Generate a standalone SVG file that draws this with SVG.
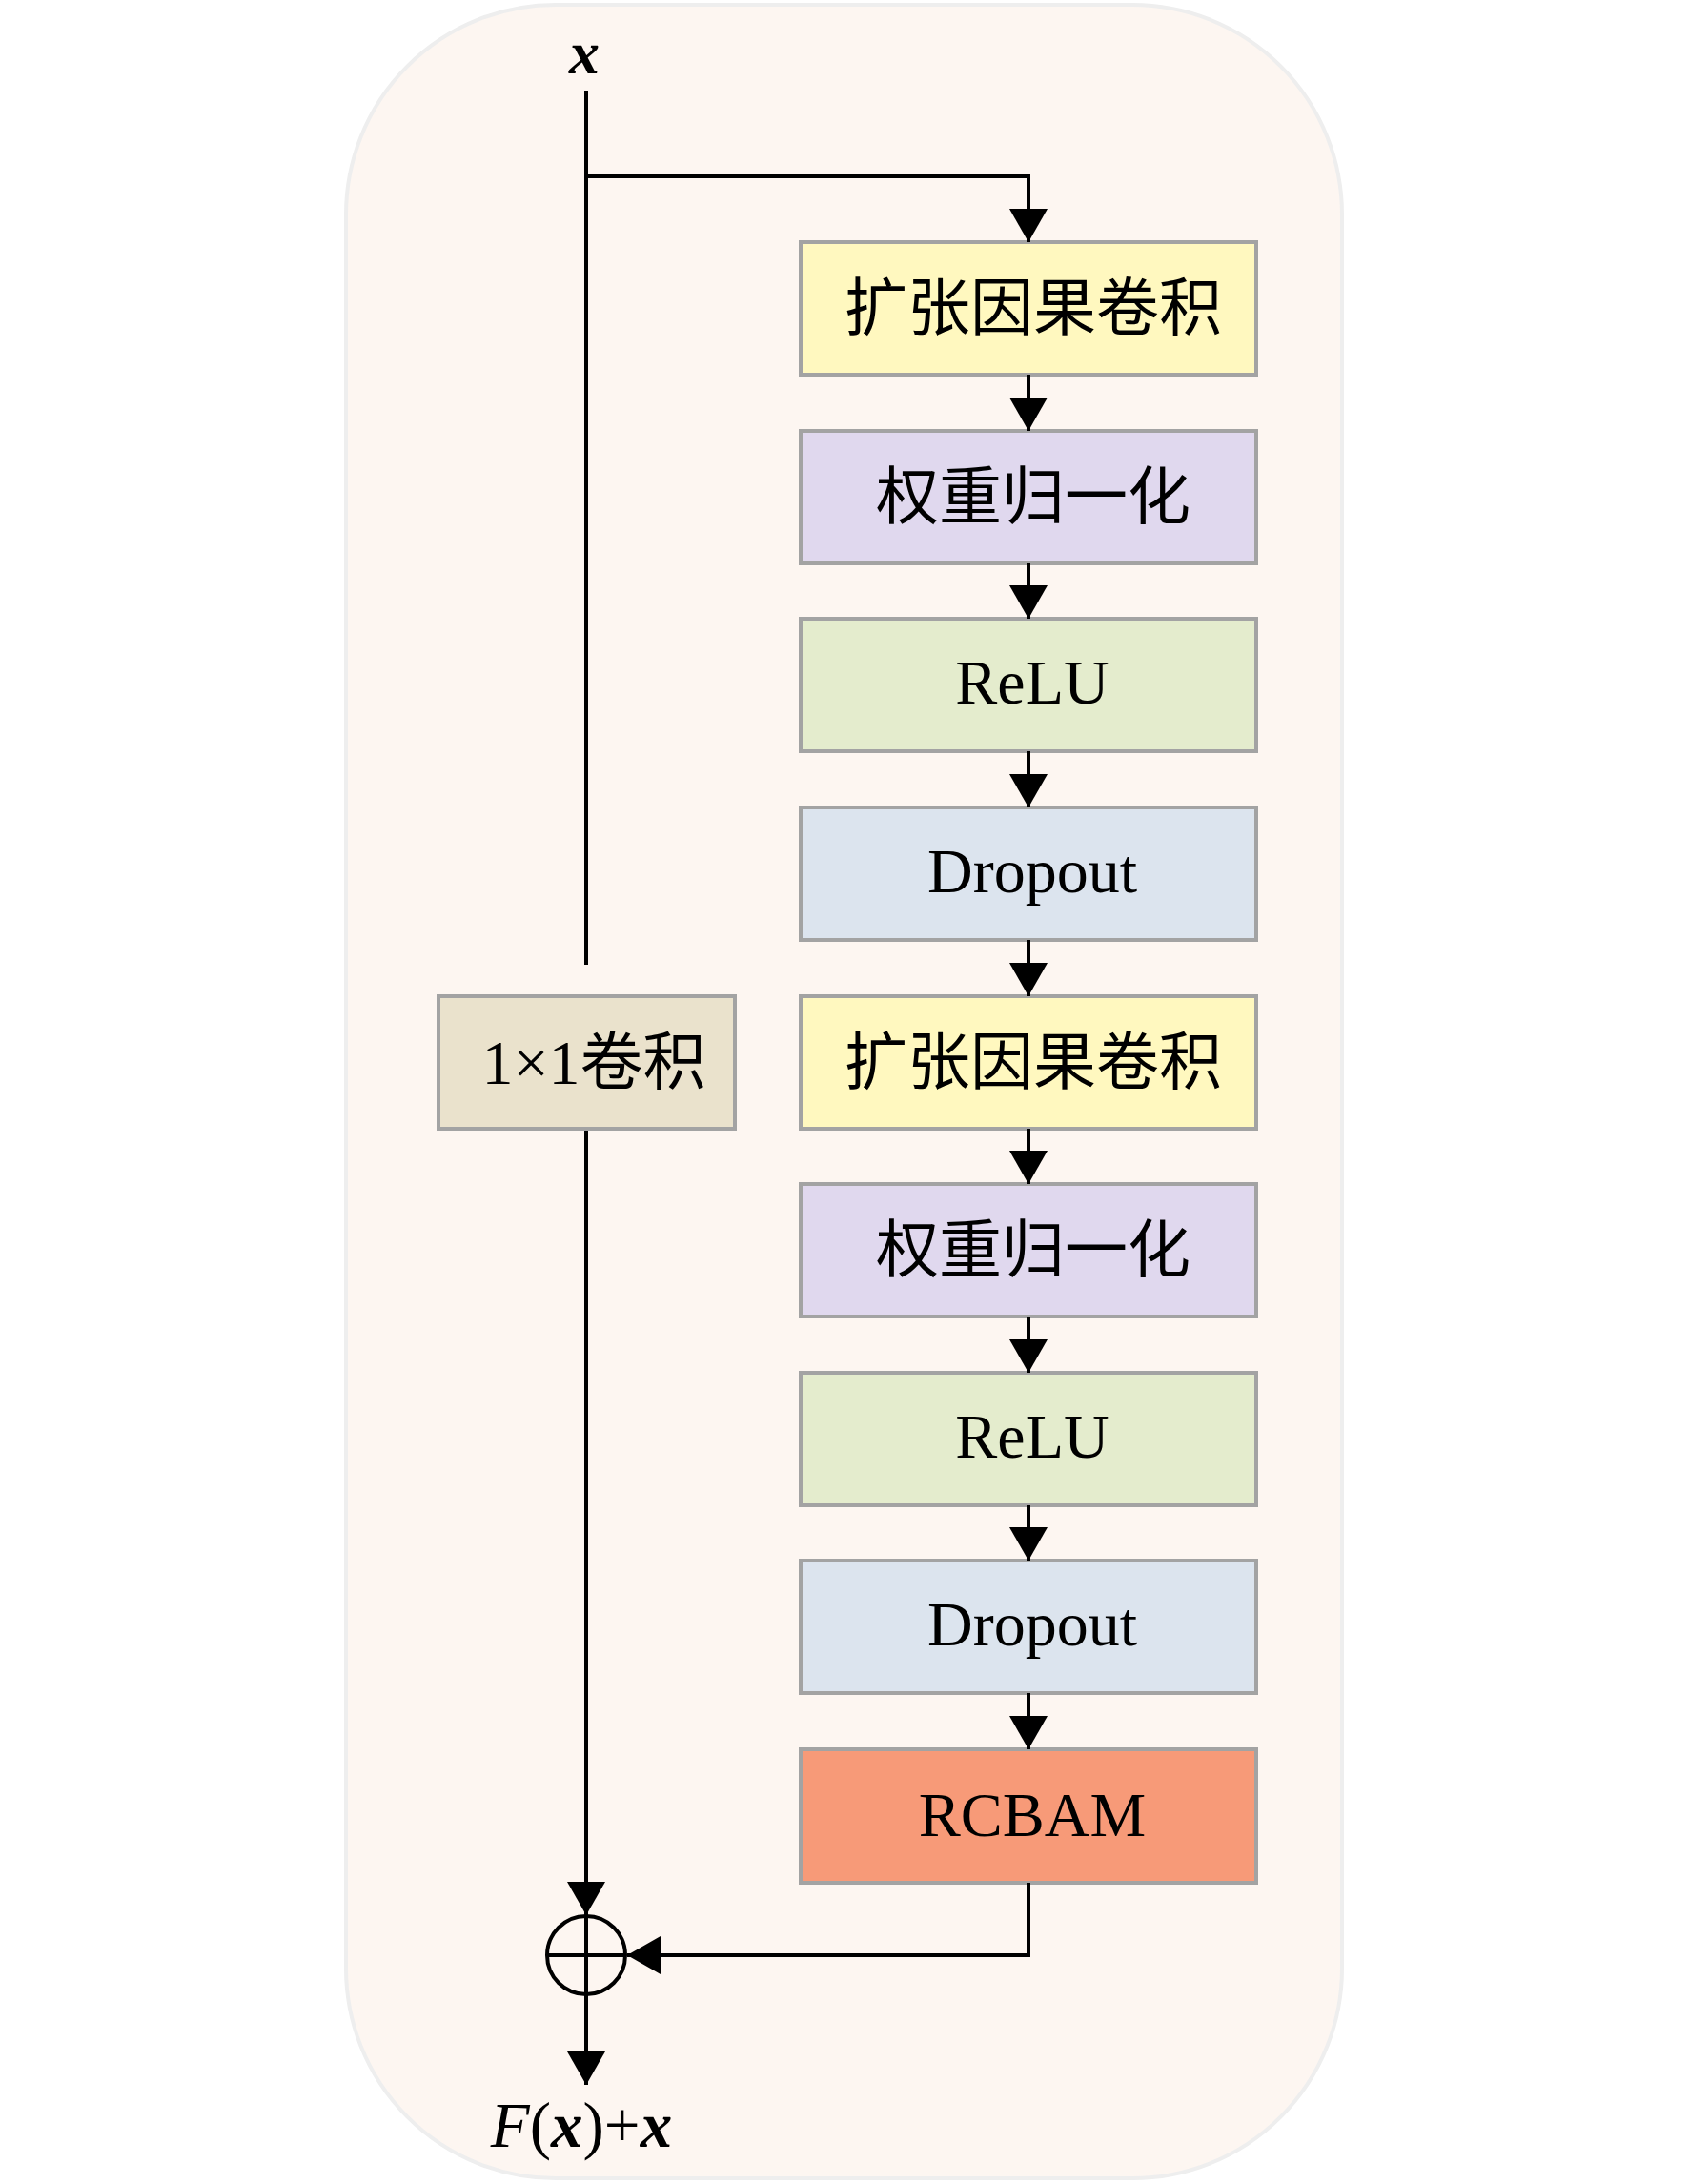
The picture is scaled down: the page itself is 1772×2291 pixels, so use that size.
<svg xmlns="http://www.w3.org/2000/svg" width="1772" height="2291" viewBox="0 0 1772 2291">
<defs>
<style>
.box{stroke:#A3A3A3;stroke-width:4}
.t{font-family:"Liberation Serif","Noto Sans CJK SC",serif;font-size:66px;fill:#000;text-anchor:middle}
.ln{fill:none;stroke:#000;stroke-width:4}
</style>
<marker id="ah" viewBox="0 0 35 40" refX="35" refY="20" markerWidth="35" markerHeight="40" markerUnits="userSpaceOnUse" orient="auto">
<path d="M0,0 L35,20 L0,40 Z" fill="#000"/>
</marker>
</defs>
<rect x="0" y="0" width="1772" height="2291" fill="#FFFFFF"/>
<rect id="background" x="363" y="5" width="1045" height="2280" rx="220" ry="220" fill="#FDF6F1" stroke="#EEEEEE" stroke-width="4"/>

<g id="label-x">
<text x="613" y="77" class="t" style="font-weight:bold;font-style:italic;font-size:64px">x</text>
</g>

<g id="n1"><rect class="box" x="840" y="254" width="478" height="139" fill="#FFF8BF"/><text class="t" x="1084" y="346">扩张因果卷积</text></g>
<g id="n2"><rect class="box" x="840" y="452" width="478" height="139" fill="#E0D8EE"/><text class="t" x="1084" y="544">权重归一化</text></g>
<g id="n3"><rect class="box" x="840" y="649" width="478" height="139" fill="#E4ECCD"/><text class="t" x="1083" y="738">ReLU</text></g>
<g id="n4"><rect class="box" x="840" y="847" width="478" height="139" fill="#DCE4EE"/><text class="t" x="1083" y="936">Dropout</text></g>
<g id="n5"><rect class="box" x="840" y="1045" width="478" height="139" fill="#FFF8BF"/><text class="t" x="1084" y="1137">扩张因果卷积</text></g>
<g id="n6"><rect class="box" x="840" y="1242" width="478" height="139" fill="#E0D8EE"/><text class="t" x="1084" y="1334">权重归一化</text></g>
<g id="n7"><rect class="box" x="840" y="1440" width="478" height="139" fill="#E4ECCD"/><text class="t" x="1083" y="1529">ReLU</text></g>
<g id="n8"><rect class="box" x="840" y="1637" width="478" height="139" fill="#DCE4EE"/><text class="t" x="1083" y="1726">Dropout</text></g>
<g id="n9"><rect class="box" x="840" y="1835" width="478" height="140" fill="#F79A78"/><text class="t" x="1083" y="1926">RCBAM</text></g>
<g id="conv1x1"><rect class="box" x="460" y="1045" width="311" height="139" fill="#EAE2CC"/><text class="t" x="623" y="1137">1×1卷积</text></g>

<g id="sum">
<circle cx="615" cy="2051" r="41" fill="none" stroke="#000" stroke-width="4"/>
<line x1="574" y1="2051" x2="656" y2="2051" stroke="#000" stroke-width="4"/>
<line x1="615" y1="2010" x2="615" y2="2092" stroke="#000" stroke-width="4"/>
</g>

<g id="label-out">
<text x="610" y="2252" class="t" style="font-size:67px"><tspan font-style="italic">F</tspan><tspan>(</tspan><tspan font-style="italic" font-weight="bold">x</tspan><tspan>)+</tspan><tspan font-style="italic" font-weight="bold">x</tspan></text>
</g>

<g id="connectors">
<path class="ln" d="M615,95 L615,1012"/>
<path class="ln" d="M615,185 L1079,185 L1079,254" marker-end="url(#ah)"/>
<path class="ln" d="M1079,393 L1079,452" marker-end="url(#ah)"/>
<path class="ln" d="M1079,591 L1079,649" marker-end="url(#ah)"/>
<path class="ln" d="M1079,788 L1079,847" marker-end="url(#ah)"/>
<path class="ln" d="M1079,986 L1079,1045" marker-end="url(#ah)"/>
<path class="ln" d="M1079,1184 L1079,1242" marker-end="url(#ah)"/>
<path class="ln" d="M1079,1381 L1079,1440" marker-end="url(#ah)"/>
<path class="ln" d="M1079,1579 L1079,1637" marker-end="url(#ah)"/>
<path class="ln" d="M1079,1776 L1079,1835" marker-end="url(#ah)"/>
<path class="ln" d="M615,1186 L615,2009" marker-end="url(#ah)"/>
<path class="ln" d="M1079,1975 L1079,2051 L658,2051" marker-end="url(#ah)"/>
<path class="ln" d="M615,2092 L615,2187" marker-end="url(#ah)"/>
</g>
</svg>
